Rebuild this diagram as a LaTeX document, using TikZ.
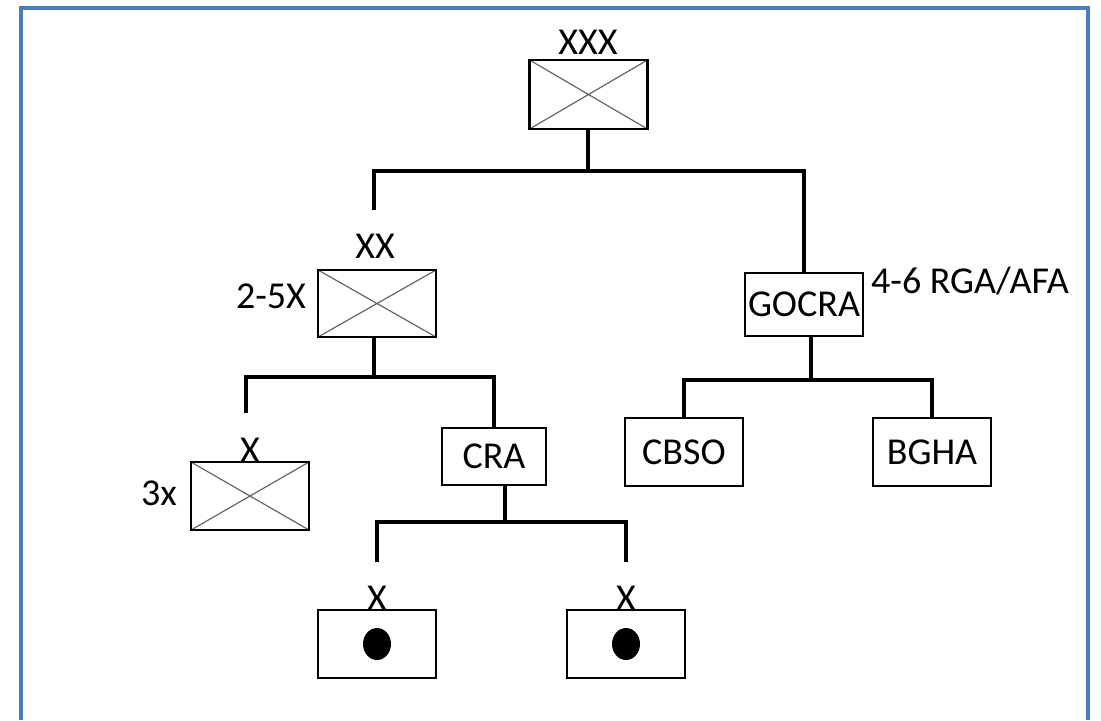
\documentclass[tikz,border=0pt]{standalone}
\usepackage{fontspec}
\setmainfont{Carlito}
\usepackage{xcolor}
\usetikzlibrary{positioning,calc}
\definecolor{framebl}{HTML}{4A7EBB}
\tikzset{
    formation/.style={
        rectangle, draw=black, line width=1.2pt,
        minimum width=59pt, minimum height=34pt, inner sep=0pt,
        path picture={
            \draw[black!60, line width=0.6pt]
                (path picture bounding box.north west) -- (path picture bounding box.south east)
                (path picture bounding box.south west) -- (path picture bounding box.north east);
        }
    },
    agency/.style={
        rectangle, draw=black, line width=1.2pt,
        minimum width=59pt, minimum height=34pt, inner sep=0pt,
        align=center, font=\fontsize{19}{21}\selectfont
    },
    post/.style={
        rectangle, draw=black, line width=1.2pt,
        minimum width=59pt, minimum height=34pt, inner sep=0pt,
        path picture={
            \fill[black] (path picture bounding box.center) ellipse (7pt and 8pt);
        }
    },
    tag/.style={inner sep=0pt, font=\fontsize{19}{21}\selectfont},
    link/.style={draw, line width=1.6pt},
    frame/.style={draw=framebl, line width=1.6pt}
}
\begin{document}
\begin{tikzpicture}[x=0.5pt, y=-0.5pt]
\useasboundingbox (0,0) rectangle (1101,720);

%% outer frame -- open at the bottom
\draw[frame] (21,720) |- (1088,8) -- (1088,720);

%% command level
\node[formation, minimum height=34.5pt] (xxx) at (588.5,94.5) {};
\node[tag, anchor=base] (lblxxx) at (588,54) {XXX};

%% second level
\node[formation, minimum height=33.5pt] (xx) at (377,303.5) {};
\node[tag, anchor=base] (lblxx) at (375,258) {XX};
\node[tag, anchor=base] (cntxx) at (271,308) {2-5X};
\node[agency, minimum height=31.5pt] (gocra) at (804,304.5) {GOCRA};
\node[tag, anchor=base] (cntgocra) at (970,293) {4-6 RGA/AFA};

%% third level
\node[formation] (xone) at (250,496) {};
\node[tag, anchor=base] (lblxone) at (250,462) {X};
\node[tag, anchor=base] (cntxone) at (159,505) {3x};
\node[agency, minimum width=52pt, minimum height=28.5pt] (cra) at (494,456.5) {CRA};
\node[agency] (cbso) at (684,452) {CBSO};
\node[agency] (bgha) at (932,452) {BGHA};

%% bottom level
\node[post] (dotl) at (377,644) {};
\node[tag, anchor=base] (lbldotl) at (377,610) {X};
\node[post] (dotr) at (626,644) {};
\node[tag, anchor=base] (lbldotr) at (626,610) {X};

%% buses and free ends
\coordinate (bus1) at (588,171);
\coordinate (bus2) at (374,377);
\coordinate (bus3) at (505,522);
\coordinate (bus4) at (811,380);
\coordinate (xxend) at (374,210);
\coordinate (xend) at (246,413);
\coordinate (dlend) at (377,562);
\coordinate (drend) at (626,562);

%% XXX -> XX / GOCRA
\draw[link] (xxx.south -| bus1) -- (bus1);
\draw[link] (xxend) |- (bus1) -| (gocra);

%% XX -> X / CRA
\draw[link] (xx.south -| bus2) -- (bus2);
\draw[link] (xend) |- (bus2) -| (cra);

%% CRA -> bottom units
\draw[link] (cra.south -| bus3) -- (bus3);
\draw[link] (dlend) |- (bus3) -| (drend);

%% GOCRA -> CBSO / BGHA
\draw[link] (gocra.south -| bus4) -- (bus4);
\draw[link] (cbso) |- (bus4) -| (bgha);

\end{tikzpicture}
\end{document}
